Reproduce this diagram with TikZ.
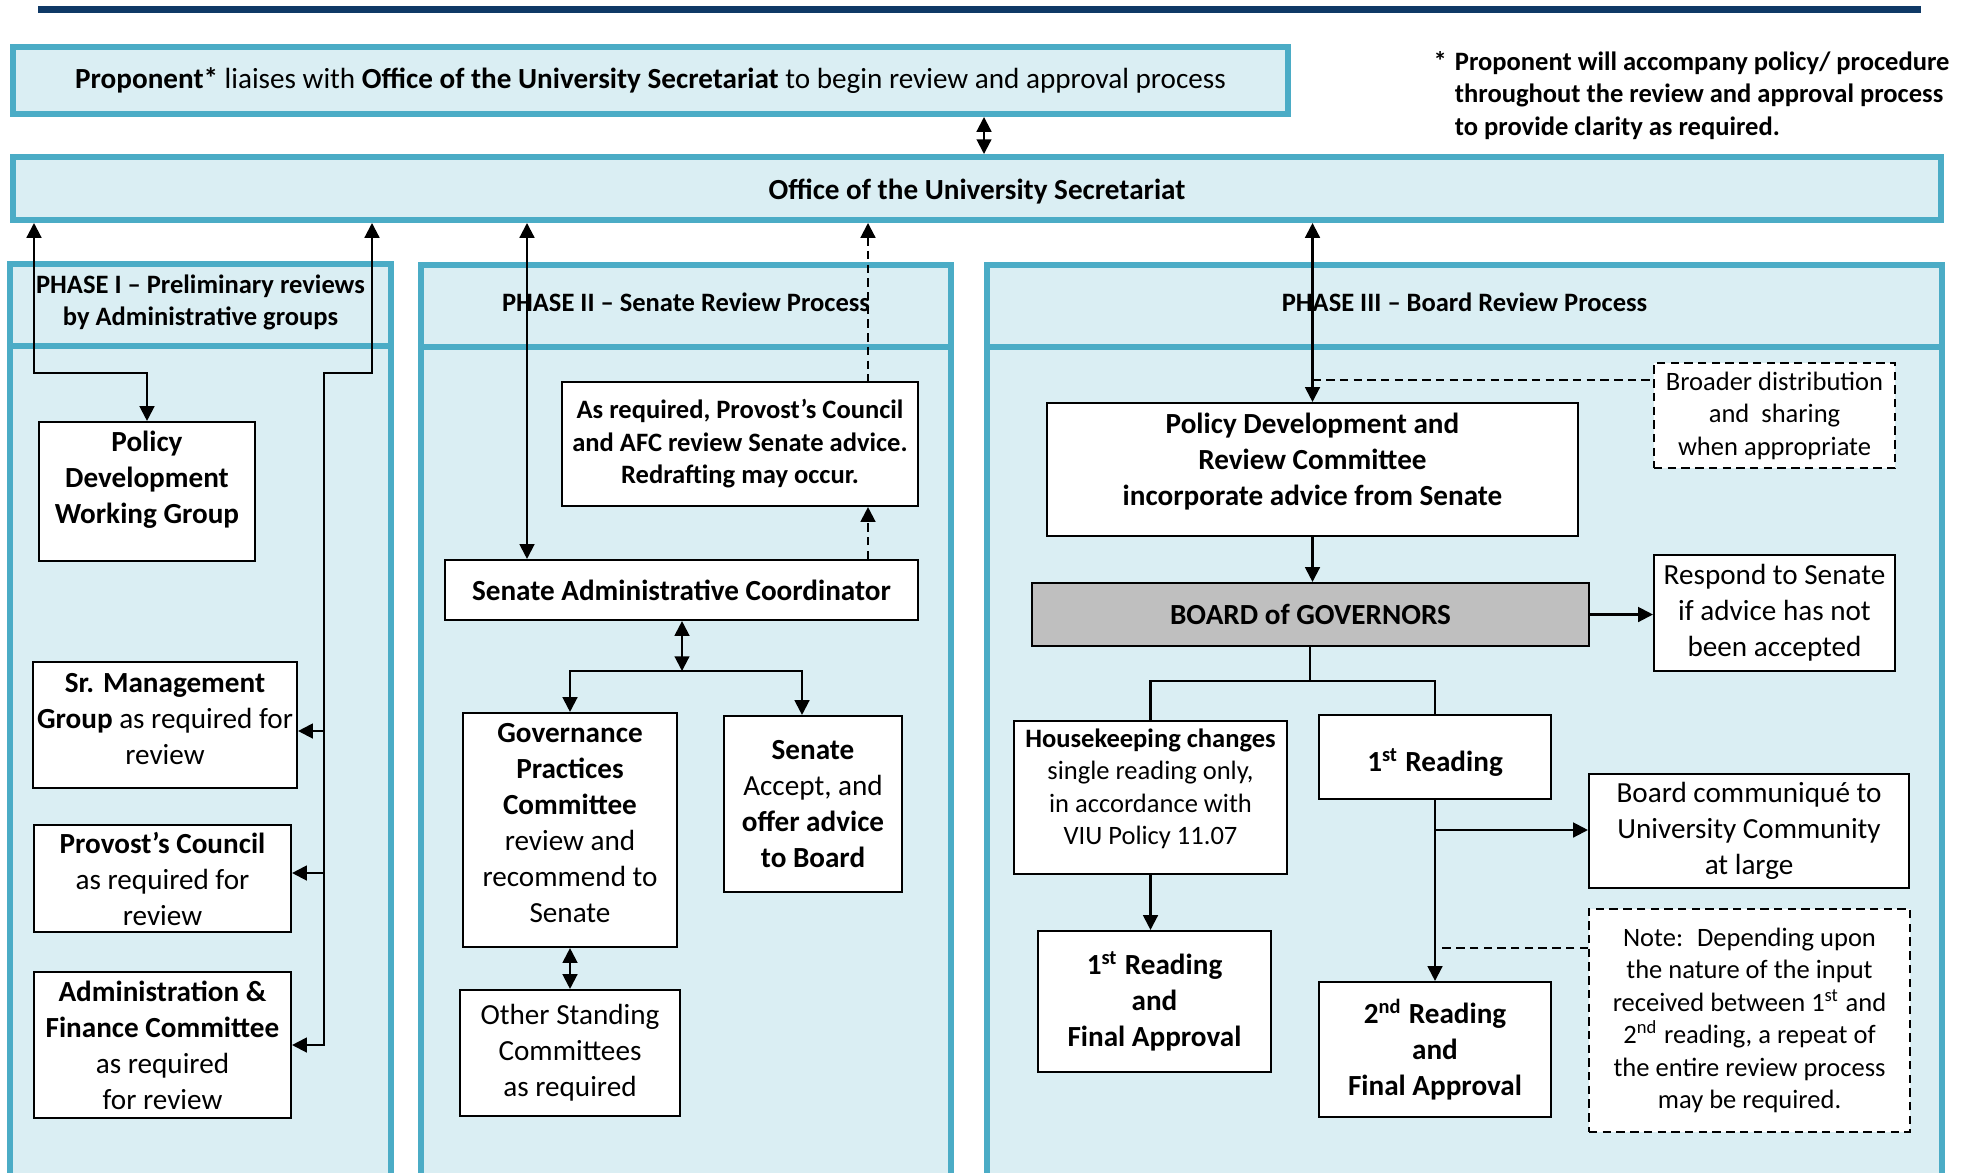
\documentclass[tikz,border=0pt]{standalone}
\usepackage{fontspec}
\setmainfont{Carlito}
\usetikzlibrary{arrows.meta}
\definecolor{panelteal}{HTML}{4BACC6}
\definecolor{panelfill}{HTML}{DAEEF3}
\definecolor{topnavy}{HTML}{0F3966}
\definecolor{boardgray}{HTML}{BFBFBF}
\newcommand{\bigsz}{\fontsize{8.3}{10.25}\selectfont}
\newcommand{\smallsz}{\fontsize{7.55}{9.25}\selectfont}
\tikzset{
  >={Triangle[length=4.2pt,width=4.2pt]},
  panel/.style={draw=panelteal,fill=panelfill,line width=1.7pt},
  tealbox/.style={draw=panelteal,fill=panelfill,line width=1.7pt,inner sep=0pt,align=center},
  stepbox/.style={draw=black,fill=white,line width=0.6pt,inner sep=0pt,align=center,font=\bigsz},
  notebox/.style={stepbox,dash pattern=on 2.4pt off 1.5pt,font=\smallsz},
  link/.style={line width=0.6pt},
  dashlink/.style={line width=0.6pt,dash pattern=on 2.4pt off 1.5pt}
}
\begin{document}
\begin{tikzpicture}[x=1cm,y=1cm]
\useasboundingbox (0,0) rectangle (19.61,-11.72);
\fill[topnavy] (0.38,-0.06) rectangle (19.21,-0.13);
\node[tealbox,minimum width=12.75cm,minimum height=0.67cm,font=\bigsz] (prop) at (6.505,-0.805)
  {\textbf{Proponent*} liaises with \textbf{Office of the University Secretariat} to begin review and approval process};
\node[anchor=base west,inner sep=0pt,font=\smallsz\bfseries] (foot) at (14.33,-0.70)
  {\begin{tabular}[t]{@{}l@{\hspace{0.08cm}}l@{}}*&Proponent will accompany policy/ procedure\\
  &throughout the review and approval process\\&to provide clarity as required.\end{tabular}};
\node[tealbox,minimum width=19.28cm,minimum height=0.63cm,text height=0.27cm,font=\bigsz\bfseries] (office) at (9.77,-1.885)
  {Office of the University Secretariat};
\draw[link,<->] (prop.south -| 9.84,0) -- (office.north -| 9.84,0);

% phase panels
\draw[panel] (0.10,-2.64) rectangle (3.91,-11.85);
\draw[panel] (4.21,-2.65) rectangle (9.51,-11.85);
\draw[panel] (9.87,-2.65) rectangle (19.42,-11.85);
\node[tealbox,minimum width=3.81cm,minimum height=0.82cm,text depth=0.10cm,font=\smallsz\bfseries] (ph1) at (2.005,-3.05)
  {PHASE I -- Preliminary reviews\\by Administrative groups};
\node[tealbox,minimum width=5.30cm,minimum height=0.82cm,text depth=0.08cm,font=\smallsz\bfseries] (ph2) at (6.86,-3.06)
  {PHASE II -- Senate Review Process};
\node[tealbox,minimum width=9.55cm,minimum height=0.82cm,text depth=0.08cm,font=\smallsz\bfseries] (ph3) at (14.645,-3.06)
  {PHASE III -- Board Review Process};

% phase I
\node[stepbox,minimum width=2.16cm,minimum height=1.39cm,text depth=0.28cm,font=\bigsz\bfseries] (policy) at (1.47,-4.915)
  {Policy\\Development\\Working Group};
\node[stepbox,minimum width=2.64cm,minimum height=1.26cm,text depth=0.12cm] (sr) at (1.65,-7.25)
  {\textbf{Sr. Management}\\\textbf{Group} as required for\\review};
\node[stepbox,minimum width=2.57cm,minimum height=1.07cm] (prov) at (1.625,-8.785)
  {\textbf{Provost’s Council}\\as required for\\review};
\node[stepbox,minimum width=2.57cm,minimum height=1.46cm] (admin) at (1.625,-10.45)
  {\textbf{Administration \&}\\\textbf{Finance Committee}\\as required\\for review};

% phase II
\node[stepbox,minimum width=3.56cm,minimum height=1.24cm,font=\smallsz\bfseries] (asreq) at (7.40,-4.44)
  {As required, Provost’s Council\\and AFC review Senate advice.\\Redrafting may occur.};
\node[stepbox,minimum width=4.73cm,minimum height=0.60cm,font=\bigsz\bfseries] (sac) at (6.815,-5.90)
  {Senate Administrative Coordinator};
\node[stepbox,minimum width=2.14cm,minimum height=2.34cm,text depth=0.15cm] (gpc) at (5.70,-8.30)
  {\textbf{Governance}\\\textbf{Practices}\\\textbf{Committee}\\review and\\recommend to\\Senate};
\node[stepbox,minimum width=1.78cm,minimum height=1.76cm] (senate) at (8.13,-8.04)
  {\textbf{Senate}\\Accept, and\\\textbf{offer advice}\\\textbf{to Board}};
\node[stepbox,minimum width=2.20cm,minimum height=1.26cm] (osc) at (5.70,-10.53)
  {Other Standing\\Committees\\as required};

% phase III
\node[stepbox,minimum width=5.31cm,minimum height=1.33cm,text depth=0.21cm,font=\bigsz\bfseries] (pdrc) at (13.125,-4.695)
  {Policy Development and\\Review Committee\\incorporate advice from Senate};
\node[notebox,minimum width=2.41cm,minimum height=1.05cm] (broader) at (17.745,-4.155)
  {Broader distribution\\and~ sharing\\when appropriate};
\node[stepbox,fill=boardgray,minimum width=5.57cm,minimum height=0.63cm,font=\bigsz\bfseries] (bog) at (13.105,-6.145)
  {BOARD of GOVERNORS};
\node[stepbox,minimum width=2.41cm,minimum height=1.16cm] (respond) at (17.745,-6.13)
  {Respond to Senate\\if advice has not\\been accepted};
\node[stepbox,minimum width=2.73cm,minimum height=1.53cm,text depth=0.22cm,font=\smallsz] (house) at (11.505,-7.975)
  {\textbf{Housekeeping changes}\\single reading only,\\in accordance with\\VIU Policy 11.07};
\node[stepbox,minimum width=2.32cm,minimum height=0.84cm,text height=0.34cm,font=\bigsz\bfseries] (read1) at (14.35,-7.57)
  {1\textsuperscript{st} Reading};
\node[stepbox,minimum width=2.33cm,minimum height=1.41cm,font=\bigsz\bfseries] (final1) at (11.545,-10.015)
  {1\textsuperscript{st} Reading\\and\\Final Approval};
\node[stepbox,minimum width=3.20cm,minimum height=1.14cm] (comm) at (17.49,-8.31)
  {Board communiqué to\\University Community\\at large};
\node[notebox,minimum width=3.21cm,minimum height=2.23cm] (note) at (17.495,-10.205)
  {Note:~ Depending upon\\the nature of the input\\received between 1\textsuperscript{st} and\\2\textsuperscript{nd} reading, a repeat of\\the entire review process\\may be required.};
\node[stepbox,minimum width=2.32cm,minimum height=1.35cm,font=\bigsz\bfseries] (read2) at (14.35,-10.495)
  {2\textsuperscript{nd} Reading\\and\\Final Approval};

% connectors phase I
\coordinate (p1a) at (0.34,-3.73);
\coordinate (p1b) at (1.47,-3.73);
\coordinate (p1c) at (3.72,-3.73);
\coordinate (p1d) at (3.24,-3.73);
\coordinate (p1e) at (3.24,-7.31);
\coordinate (p1f) at (3.24,-8.73);
\draw[link,<->] (office.south -| p1a) -- (p1a) -- (p1b) -- (policy.north);
\draw[link,<->] (office.south -| p1c) -- (p1c) -- (p1d) |- (admin.east);
\draw[link,->] (p1e) -- (p1e -| sr.east);
\draw[link,->] (p1f) -- (p1f -| prov.east);

% connectors phase II
\coordinate (j2) at (6.82,-6.71);
\draw[link,<->] (office.south -| 5.27,0) -- (sac.north -| 5.27,0);
\draw[dashlink,<-] (office.south -| 8.68,0) -- (asreq.north -| 8.68,0);
\draw[dashlink,->] (sac.north -| 8.68,0) -- (asreq.south -| 8.68,0);
\draw[link,<->] (sac.south -| j2) -- (j2);
\draw[link,->] (j2) -| (gpc.north);
\draw[link,->] (j2) -| (senate.north -| 8.02,0);
\draw[link,<->] (gpc.south) -- (osc.north);

% connectors phase III
\coordinate (d3) at (13.125,-3.80);
\coordinate (j3) at (13.10,-6.81);
\coordinate (j4) at (14.35,-8.30);
\coordinate (n4) at (14.42,-9.48);
\draw[link,<->] (office.south -| pdrc.north) -- (pdrc.north);
\draw[dashlink] (d3) -- (d3 -| broader.west);
\draw[link,->] (pdrc.south) -- (pdrc.south |- bog.north);
\draw[link,->] (bog.east) -- (respond.west |- bog.east);
\draw[link] (bog.south -| j3) -- (j3);
\draw[link] (j3) -| (house.north);
\draw[link] (j3) -| (read1.north);
\draw[link,->] (house.south) -- (house.south |- final1.north);
\draw[link,->] (read1.south) -- (read2.north);
\draw[link,->] (j4) -- (j4 -| comm.west);
\draw[dashlink] (n4 -| note.west) -- (n4);
\end{tikzpicture}
\end{document}
